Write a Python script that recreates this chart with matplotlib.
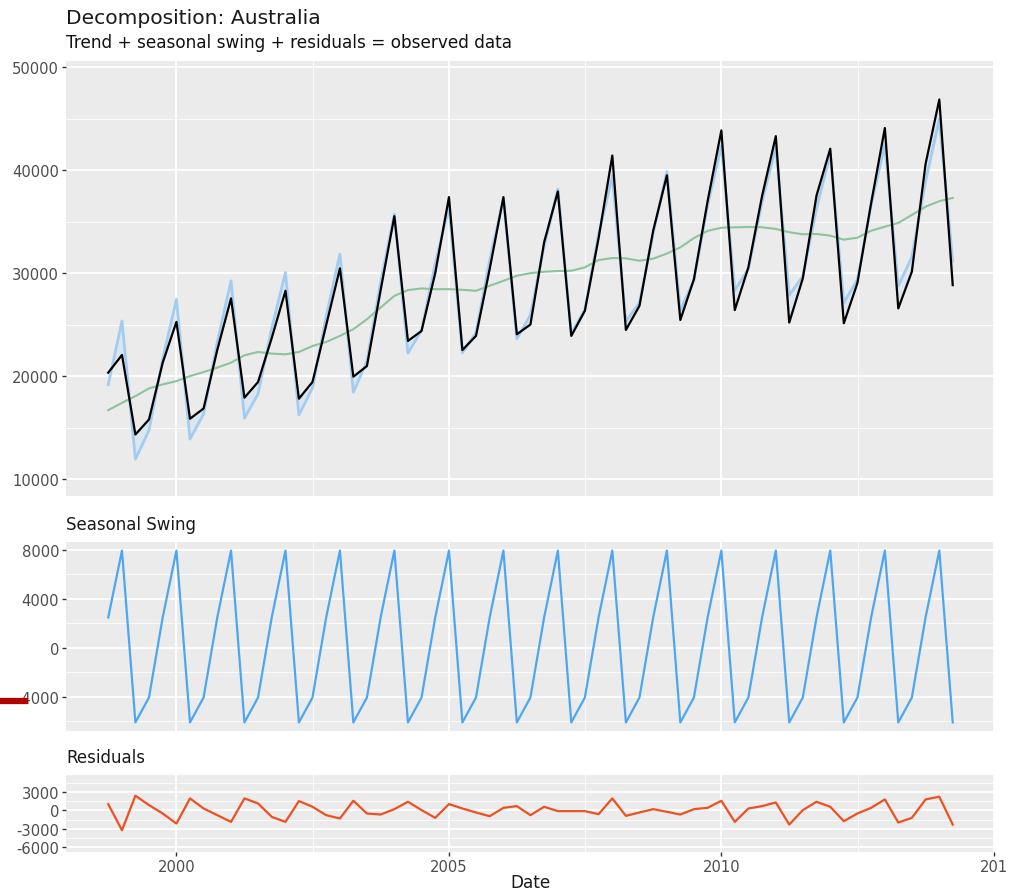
import matplotlib
matplotlib.use("Agg")
import matplotlib.pyplot as plt
import matplotlib.dates as mdates
from matplotlib.lines import Line2D
import pandas as pd

plt.rcParams['axes.unicode_minus'] = False
plt.rcParams['font.family'] = ['DejaVu Sans']

# quarterly series, Q4 1998 .. Q2 2014
dates = pd.date_range("1998-10-01", periods=63, freq="QS")

observed = [20330, 22050, 14320, 15780, 21300, 25260, 15850, 16850,
            22550, 27540, 17900, 19420, 23700, 28280, 17800, 19420,
            24950, 30460, 19940, 20970, 28350, 35530, 23410, 24380,
            30000, 37380, 22530, 23900, 30400, 37380, 24060, 25000,
            33000, 37930, 23900, 26340, 33400, 41420, 24480, 26820,
            34120, 39500, 25450, 29400, 37000, 43860, 26410, 30560,
            37500, 43300, 25200, 29490, 37540, 42080, 25130, 29030,
            36800, 44090, 26570, 30140, 40610, 46860, 28830]

trend = [16690, 17400, 18050, 18800, 19190, 19510, 20000, 20390,
         20820, 21300, 22020, 22340, 22180, 22110, 22340, 22920,
         23310, 23900, 24550, 25520, 26660, 27790, 28350, 28510,
         28440, 28440, 28380, 28280, 28770, 29250, 29740, 30000,
         30130, 30200, 30230, 30560, 31270, 31460, 31430, 31200,
         31400, 31900, 32500, 33400, 34100, 34410, 34450, 34480,
         34450, 34290, 33970, 33770, 33800, 33640, 33250, 33440,
         34120, 34510, 34870, 35650, 36450, 36990, 37300]

seasonal = [2480, 7950, -6120, -4080, 2480, 7950, -6120, -4080,
            2480, 7950, -6120, -4080, 2480, 7950, -6120, -4080,
            2480, 7950, -6120, -4080, 2480, 7950, -6120, -4080,
            2480, 7950, -6120, -4080, 2480, 7950, -6120, -4080,
            2480, 7950, -6120, -4080, 2480, 7950, -6120, -4080,
            2480, 7950, -6120, -4080, 2480, 7950, -6120, -4080,
            2480, 7950, -6120, -4080, 2480, 7950, -6120, -4080,
            2480, 7950, -6120, -4080, 2480, 7950, -6120]

# trend + seasonal (light blue line)
fitted = [19170, 25350, 11930, 14720, 21670, 27460, 13880, 16310,
          23300, 29250, 15900, 18260, 24660, 30060, 16220, 18840,
          25790, 31850, 18430, 21440, 29140, 35740, 22230, 24430,
          30920, 36390, 22260, 24200, 31250, 37200, 23620, 25920,
          32610, 38150, 24110, 26480, 33750, 39410, 25310, 27120,
          33880, 39850, 26380, 29320, 36580, 42360, 28330, 30400,
          36930, 42240, 27850, 29690, 36280, 41590, 27130, 29360,
          36600, 42460, 28750, 31570, 38930, 44940, 31180]

residuals = [1050, -3280, 2450, 890, -500, -2170, 2000, 330,
             -780, -1890, 2000, 1170, -1060, -1890, 1560, 610,
             -780, -1330, 1610, -500, -670, 220, 1440, 60,
             -1220, 1060, 330, -330, -950, 440, 720, -780,
             610, -110, -110, -110, -610, 2000, -890, -330,
             220, -220, -670, 220, 440, 1610, -1890, 330,
             720, 1330, -2330, 60, 1440, 610, -1780, -500,
             440, 1830, -2000, -1220, 1830, 2280, -2330]

year_ticks = [pd.Timestamp("2000-01-01"), pd.Timestamp("2005-01-01"),
              pd.Timestamp("2010-01-01"), pd.Timestamp("2015-01-01")]
year_labels = ['2000', '2005', '2010', '201']
mid_years = [pd.Timestamp("2002-07-02"), pd.Timestamp("2007-07-02"),
             pd.Timestamp("2012-07-02")]


def style_panel(ax, major, minor):
    ax.set_facecolor('#ebebeb')
    for s in ax.spines.values():
        s.set_visible(False)
    ax.set_yticks(major)
    ax.set_yticks(minor, minor=True)
    ax.grid(which='major', color='white', lw=1.3)
    ax.grid(which='minor', color='white', lw=0.6)
    ax.set_axisbelow(True)
    ax.tick_params(axis='y', which='major', length=3, width=1, color='#333333',
                   labelsize=10.6, labelcolor='#4d4d4d', pad=2)
    ax.tick_params(which='minor', length=0)
    ax.tick_params(axis='x', which='major', length=0, labelbottom=False)


fig = plt.figure(figsize=(10.19, 8.95), dpi=100)
ax1 = fig.add_axes([0.0648, 0.4447, 0.9116, 0.486])
ax2 = fig.add_axes([0.0648, 0.1821, 0.9116, 0.2112], sharex=ax1)
ax3 = fig.add_axes([0.0648, 0.0469, 0.9116, 0.0861], sharex=ax1)

#top panel
ax1.fill_between(dates, fitted, observed, color='#cfe3f5', alpha=0.55, lw=0)
ax1.plot(dates, fitted, color='#a3cdf0', lw=2)
ax1.plot(dates, trend, color='#8cc49c', lw=1.5)
ax1.plot(dates, observed, color='black', lw=1.6)
style_panel(ax1, [10000, 20000, 30000, 40000, 50000], [15000, 25000, 35000, 45000])
ax1.set_ylim(8350, 50600)

#seasonal
ax2.plot(dates, seasonal, color='#4da6f0', lw=1.6)
style_panel(ax2, [-4000, 0, 4000, 8000], [-6000, -2000, 2000, 6000])

#residuals
ax3.plot(dates, residuals, color='#ee5022', lw=1.6)
style_panel(ax3, [-6000, -3000, 0, 3000], [-4500, -1500, 1500, 4500])
ax3.set_ylim(-6880, 5880)

ax1.xaxis.set_major_locator(matplotlib.ticker.FixedLocator(mdates.date2num(year_ticks)))
ax1.xaxis.set_minor_locator(matplotlib.ticker.FixedLocator(mdates.date2num(mid_years)))
ax3.xaxis.set_major_formatter(matplotlib.ticker.FixedFormatter(year_labels))
ax3.tick_params(axis='x', which='major', length=3, width=1, color='#333333',
                labelbottom=True, labelsize=10.6, labelcolor='#4d4d4d', pad=2)

fig.text(0.0648, 1 - 18 / 895, "Decomposition: Australia", fontsize=14.6, va='center', color='#1a1a1a')
fig.text(0.0648, 1 - 43 / 895, "Trend + seasonal swing + residuals = observed data",
         fontsize=12.2, va='center', color='#111111')
fig.text(0.0648, 1 - 525 / 895, "Seasonal Swing", fontsize=12, va='center', color='#1a1a1a')
fig.text(0.0648, 1 - 758 / 895, "Residuals", fontsize=12, va='center', color='#1a1a1a')
fig.text(0.5206, 1 - 883 / 895, "Date", fontsize=12.2, ha='center', va='center', color='#1a1a1a')

# red marker at the left edge
fig.add_artist(Line2D([0, 0.025], [0.2157, 0.2157], color='#b30000', lw=4.5))

fig.savefig("out.png", dpi=100)
